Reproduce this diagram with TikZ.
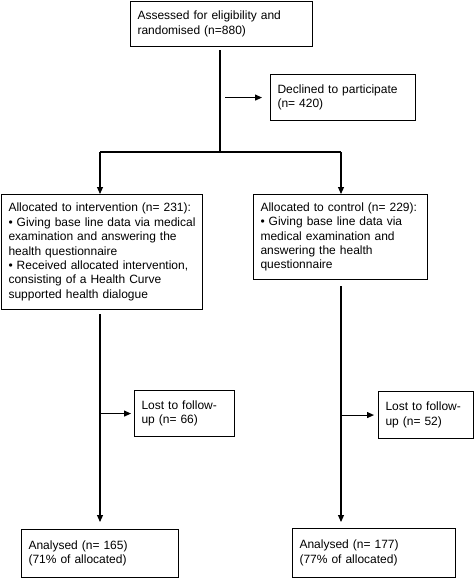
\documentclass[tikz,border=0pt]{standalone}
\usepackage{fontspec}
\setmainfont{Liberation Sans}
\usetikzlibrary{arrows.meta}
\begin{document}
\begin{tikzpicture}[x=1pt,y=-1pt,
  box/.style={draw, line width=1.1pt, anchor=north west, align=left,
    inner xsep=7pt, inner ysep=0pt, font=\fontsize{12}{14.4}\selectfont},
  conn/.style={line width=1.1pt},
  arr/.style={conn,-{Triangle[length=7pt,width=6pt]}}]
\useasboundingbox (0,0) rectangle (474,578);

\node[box, text width=168pt, minimum height=45pt] (top) at (130,1)
  {Assessed for eligibility and\\randomised (n=880)};
\node[box, text width=131pt, minimum height=46pt] (declined) at (270,74)
  {Declined to participate\\(n= 420)};
\node[box, text width=187pt, minimum height=115pt] (allocL) at (1,194)
  {Allocated to intervention (n= 231):\\
   • Giving base line data via medical\\
   examination and answering the\\
   health questionnaire\\
   • Received allocated intervention,\\
   consisting of a Health Curve\\
   supported health dialogue};
\node[box, text width=160pt, minimum height=85pt] (allocR) at (253,194)
  {Allocated to control (n= 229):\\
   • Giving base line data via\\
   medical examination and\\
   answering the health\\
   questionnaire};
\node[box, text width=86pt, minimum height=46pt] (lostL) at (134,390)
  {Lost to follow-\\up (n= 66)};
\node[box, text width=81pt, minimum height=47pt] (lostR) at (378,391)
  {Lost to follow-\\up (n= 52)};
\node[box, text width=143pt, minimum height=48pt] (analL) at (21,529)
  {Analysed (n= 165)\\(71\% of allocated)};
\node[box, text width=149pt, minimum height=49pt] (analR) at (292,528)
  {Analysed (n= 177)\\(77\% of allocated)};

\coordinate (split) at (220,152);
\coordinate (jl) at (100,152);
\coordinate (jr) at (341,152);

\draw[conn, shorten <=3pt] (split |- top.south) -- (split);
\draw[conn] (jl) -- (jr);
\draw[arr] (jl) -- (jl |- allocL.north);
\draw[arr] (jr) -- (jr |- allocR.north);
\draw[arr, shorten <=5pt, shorten >=8pt] (split |- declined.west) -- (declined.west);

\draw[arr, shorten <=4pt, shorten >=7pt] (jl |- allocL.south) -- (jl |- analL.north);
\draw[arr, shorten >=3pt] (jl |- lostL.west) -- (lostL.west);

\draw[arr, shorten <=6pt, shorten >=6pt] (jr |- allocR.south) -- (jr |- analR.north);
\draw[arr, shorten >=4pt] (jr |- lostR.west) -- (lostR.west);
\end{tikzpicture}
\end{document}
